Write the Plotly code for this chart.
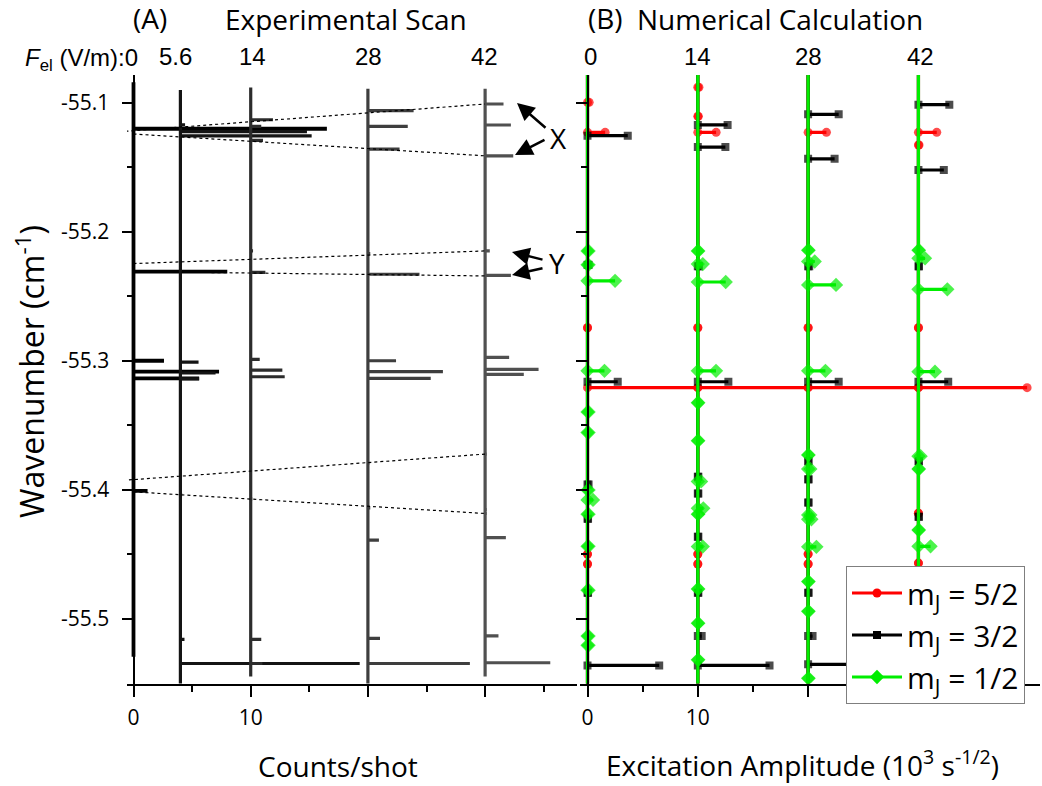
import plotly.graph_objects as go

W, H = 1042, 786

# ---------------- data ----------------
# Panel A: experimental scans (peak wavenumber, peak height in counts/shot)
exp_fields = ["0", "5.6", "14", "28", "42"]
exp_offsets = [0, 4, 10, 20, 30]
exp_colors = ["#000000", "#141414", "#2c2c2c", "#3e3e3e", "#505050"]
exp_tops = [-55.084, -55.090, -55.088, -55.089, -55.089]
exp_bottoms = [-55.5296, -55.56, -55.545, -55.56, -55.545]

exp0_E = [-55.1200, -55.2308, -55.3000, -55.3085, -55.3137, -55.4010]
exp0_h = [16.5, 8.0, 2.6, 7.3, 5.6, 1.2]

exp5_E = [-55.1170, -55.1222, -55.1256, -55.2168, -55.2246, -55.3010, -55.3095,
          -55.3140, -55.4039, -55.5162, -55.5349]
exp5_h = [0.4, 10.8, 11.2, 0.1, 0.1, 1.55, 3.0, 1.6, 0.15, 0.35, 15.3]

exp14_E = [-55.1130, -55.1181, -55.1290, -55.2148, -55.2314, -55.2990, -55.3072,
           -55.3124, -55.3185, -55.3860, -55.4072, -55.4391, -55.4758, -55.5162,
           -55.5288, -55.5349]
exp14_h = [1.9, 0.9, 1.05, 0.2, 1.25, 0.77, 2.7, 2.9, 0.1, 0.1, 0.15, 0.1, 0.1,
           0.9, 0.1, 1.0]

exp28_E = [-55.1060, -55.1181, -55.1358, -55.2168, -55.2329, -55.3000, -55.3085,
           -55.3137, -55.3794, -55.4142, -55.4391, -55.5154, -55.5349]
exp28_h = [3.9, 3.4, 2.7, 0.2, 4.4, 2.4, 6.4, 5.36, 0.15, 0.2, 0.94, 1.03, 8.7]

exp42_E = [-55.1008, -55.1171, -55.1410, -55.2148, -55.2337, -55.2974, -55.3067,
           -55.3106, -55.3724, -55.4154, -55.4185, -55.4372, -55.5135, -55.5343]
exp42_h = [1.57, 2.2, 2.4, 0.4, 2.2, 2.05, 4.56, 3.3, 0.15, 0.15, 0.15, 1.77,
           1.14, 5.56]

exp_E = [exp0_E, exp5_E, exp14_E, exp28_E, exp42_E]
exp_h = [exp0_h, exp5_h, exp14_h, exp28_h, exp42_h]

# dotted guide lines connecting states (start x, start E, end x, end E)
guide_x0 = [-1.2, 0, 0, 0, -0.9, 0]
guide_E0 = [-55.1223, -55.1241, -55.2246, -55.2308, -55.3928, -55.4017]
guide_x1 = [30, 30, 30, 30, 30, 30]
guide_E1 = [-55.1008, -55.1410, -55.2148, -55.2342, -55.3724, -55.4185]

# Panel B: numerical calculation (state wavenumber, excitation amplitude)
calc_fields = ["0", "14", "28", "42"]
calc_offsets = [0, 10, 20, 30]

red0_E = [-55.0995, -55.1228, -55.2744, -55.3209, -55.4500, -55.4577]
red0_A = [0.15, 1.6, 0.0, 39.85, 0.0, 0.0]
red14_E = [-55.0878, -55.1104, -55.1228, -55.2744, -55.3209, -55.4500, -55.4577]
red14_A = [0.1, 0.05, 1.66, 0.0, 0.0, 0.0, 0.0]
red28_E = [-55.1228, -55.2744, -55.3209, -55.4500, -55.4577]
red28_A = [1.66, 0.0, 0.0, 0.0, 0.0]
red42_E = [-55.1228, -55.1326, -55.2744, -55.3209, -55.4183, -55.4570]
red42_A = [1.66, 0.05, 0.0, 0.0, 0.0, 0.0]

blk0_E = [-55.1254, -55.2256, -55.3163, -55.3960, -55.4225, -55.4800, -55.5364]
blk0_A = [3.65, 0.1, 2.74, 0.1, 0.05, 0.05, 6.5]
blk14_E = [-55.1170, -55.1342, -55.2267, -55.3163, -55.3900, -55.4030, -55.4365,
           -55.4800, -55.5136, -55.5364]
blk14_A = [2.7, 2.5, 0.1, 2.77, 0.05, 0.05, 0.05, 0.05, 0.35, 6.5]
blk28_E = [-55.1088, -55.1433, -55.2267, -55.3163, -55.3780, -55.3920, -55.4100,
           -55.4800, -55.5136, -55.5355]
blk28_A = [2.77, 2.4, 0.1, 2.77, 0.05, 0.05, 0.05, 0.05, 0.4, 6.5]
blk42_E = [-55.1013, -55.1520, -55.2267, -55.3163, -55.3780, -55.4210, -55.5355]
blk42_A = [2.8, 2.3, 0.05, 2.7, 0.05, 0.05, 6.5]

grn0_E = [-55.2148, -55.2256, -55.2380, -55.3078, -55.3397, -55.3557, -55.4003,
          -55.4080, -55.4190, -55.4440, -55.4780, -55.5136, -55.5208]
grn0_A = [0.1, 0.1, 2.5, 1.54, 0.1, 0.1, 0.1, 0.5, 0.1, 0.1, 0.1, 0.1, 0.1]
grn14_E = [-55.2148, -55.2250, -55.2389, -55.3078, -55.3326, -55.3620, -55.3936,
           -55.4145, -55.4190, -55.4442, -55.4770, -55.5036, -55.5320]
grn14_A = [0.05, 0.45, 2.53, 1.65, 0.05, 0.05, 0.3, 0.5, 0.05, 0.45, 0.05, 0.05, 0.05]
grn28_E = [-55.2142, -55.2230, -55.2412, -55.3078, -55.3731, -55.3840, -55.4196,
           -55.4230, -55.4444, -55.4713, -55.4944, -55.5464]
grn28_A = [0.05, 0.6, 2.53, 1.57, 0.05, 0.2, 0.2, 0.3, 0.75, 0.05, 0.05, 0.05]
grn42_E = [-55.2142, -55.2205, -55.2446, -55.3085, -55.3740, -55.3840, -55.4313,
           -55.4440, -55.4700]
grn42_A = [0.05, 0.6, 2.62, 1.5, 0.2, 0.05, 0.05, 1.1, 0.05]

series_names = ["m<sub>J</sub> = 5/2", "m<sub>J</sub> = 3/2", "m<sub>J</sub> = 1/2"]
series_colors = ["#ff0000", "#000000", "#00ee00"]
series_symbols = ["circle", "square", "diamond"]
series_sizes = [9, 8, 11]
series_E = [[red0_E, red14_E, red28_E, red42_E],
            [blk0_E, blk14_E, blk28_E, blk42_E],
            [grn0_E, grn14_E, grn28_E, grn42_E]]
series_A = [[red0_A, red14_A, red28_A, red42_A],
            [blk0_A, blk14_A, blk28_A, blk42_A],
            [grn0_A, grn14_A, grn28_A, grn42_A]]

# ---------------- layout constants ----------------
Y_RANGE = [-55.5504, -55.0783]
XA_RANGE = [-0.555, 37.84]
XB_RANGE = [-0.68, 41.02]
PLOT_TOP, PLOT_BOT = 75, 683.5
YDOM = [1 - PLOT_BOT / H, 1 - PLOT_TOP / H]
XA_DOM = [127 / W, 577 / W]
XB_DOM = [580 / W, 1040 / W]
TOP_E, BOT_E = -55.0783, -55.56


def px(x):
    return x / W


def py(y):
    return 1 - y / H


def stick_path(base, top, bottom, E, A):
    pairs = sorted(zip(E, A), key=lambda p: -p[0])
    xs, ys, ms = [base], [top], [0]
    for e, a in pairs:
        xs += [base, base + a, base]
        ys += [e, e, e]
        ms += [1, 1, 0]
    xs.append(base)
    ys.append(bottom)
    ms.append(0)
    return xs, ys, ms


fig = go.Figure()

# Panel A traces
for i in range(len(exp_fields)):
    xs, ys, _ = stick_path(exp_offsets[i], exp_tops[i], exp_bottoms[i], exp_E[i], exp_h[i])
    fig.add_trace(go.Scatter(
        x=xs, y=ys, mode="lines", xaxis="x", yaxis="y",
        line=dict(color=exp_colors[i], width=3.8 if i == 0 else 3.2),
        showlegend=False, hoverinfo="skip"))

for k in range(len(guide_x0)):
    fig.add_trace(go.Scatter(
        x=[guide_x0[k], guide_x1[k]], y=[guide_E0[k], guide_E1[k]],
        mode="lines", xaxis="x", yaxis="y",
        line=dict(color="black", width=1.2, dash="dot"),
        showlegend=False, hoverinfo="skip"))

# Panel B traces
for s in range(3):
    for f in range(len(calc_fields)):
        xs, ys, ms = stick_path(calc_offsets[f], TOP_E, BOT_E, series_E[s][f], series_A[s][f])
        fig.add_trace(go.Scatter(
            x=xs, y=ys, mode="lines+markers", xaxis="x2", yaxis="y2",
            line=dict(color=series_colors[s], width=3.2),
            marker=dict(symbol=series_symbols[s], color=series_colors[s],
                        size=[series_sizes[s] * m for m in ms], line=dict(width=0)),
            showlegend=False, hoverinfo="skip"))
for s in range(3):
    fig.add_trace(go.Scatter(
        x=[None], y=[None], mode="lines+markers", xaxis="x2", yaxis="y2",
        name=series_names[s],
        line=dict(color=series_colors[s], width=3),
        marker=dict(symbol=series_symbols[s], color=series_colors[s], size=series_sizes[s])))

TICKFONT = dict(family="Open Sans", size=21, color="black")
axis_common = dict(showgrid=False, zeroline=False, showline=True, linecolor="black",
                   linewidth=2, ticks="outside", tickwidth=2, tickcolor="black",
                   ticklen=11, tickfont=TICKFONT)

y_tickvals = [-55.1, -55.2, -55.3, -55.4, -55.5]
y_ticktext = ["-55.1", "-55.2", "-55.3", "-55.4", "-55.5"]
y_minor = [-55.15, -55.25, -55.35, -55.45]
x_tickvals = [0, 10, 20, 30]
x_ticktext = ["0", "10", "", ""]
x_minor = [5, 15, 25, 35]

minor_common = dict(ticks="outside", ticklen=6, tickwidth=2, tickcolor="black", showgrid=False)

fig.update_layout(
    width=W, height=H, margin=dict(l=0, r=0, t=0, b=0),
    paper_bgcolor="white", plot_bgcolor="rgba(0,0,0,0)",
    xaxis=dict(domain=XA_DOM, range=XA_RANGE, anchor="y", tickmode="array",
               tickvals=x_tickvals, ticktext=x_ticktext, ticklabelstandoff=3,
               minor=dict(tickmode="array", tickvals=x_minor, **minor_common), **axis_common),
    xaxis2=dict(domain=XB_DOM, range=XB_RANGE, anchor="y2", tickmode="array",
                tickvals=x_tickvals, ticktext=x_ticktext, ticklabelstandoff=3,
                minor=dict(tickmode="array", tickvals=x_minor, **minor_common), **axis_common),
    yaxis=dict(domain=YDOM, range=Y_RANGE, anchor="free", position=133.5 / W,
               tickmode="array", tickvals=y_tickvals, ticktext=y_ticktext,
               ticklabelstandoff=8,
               minor=dict(tickmode="array", tickvals=y_minor, **minor_common), **axis_common),
    yaxis2=dict(domain=YDOM, range=Y_RANGE, anchor="free", position=587.5 / W,
                tickmode="array", tickvals=y_tickvals, showticklabels=False,
                minor=dict(tickmode="array", tickvals=y_minor, **minor_common), **axis_common),
    legend=dict(x=846 / W, y=py(566), xanchor="left", yanchor="top",
                bordercolor="#7f7f7f", borderwidth=1, bgcolor="white",
                font=dict(family="Open Sans", size=30, color="black"),
                itemwidth=50, tracegroupgap=0),
    showlegend=True,
)

TITLEFONT = dict(family="Open Sans", size=28, color="black")
NUMFONT = dict(family="Liberation Sans", size=24, color="black")
anns = []


def add_text(text, x, y, font, xanchor="center", angle=0):
    anns.append(dict(text=text, x=px(x), y=py(y), xref="paper", yref="paper",
                     showarrow=False, font=font, xanchor=xanchor, yanchor="middle",
                     textangle=angle))


add_text("(A)", 150, 18, TITLEFONT)
add_text("Experimental Scan", 346, 19, TITLEFONT)
add_text("(B)", 605, 18, TITLEFONT)
add_text("Numerical Calculation", 780, 19, TITLEFONT)
add_text("<i>F</i><sub>el</sub> (V/m):0", 140, 59, NUMFONT, xanchor="right")
top_label_px_A = [None, 175, 252, 368, 484]
for i in range(1, len(exp_fields)):
    add_text(exp_fields[i], top_label_px_A[i], 57, NUMFONT)
top_label_px_B = [590, 697, 808, 920]
for i in range(len(calc_fields)):
    add_text(calc_fields[i], top_label_px_B[i], 57, NUMFONT)
add_text("Wavenumber (cm<sup>-1</sup>)", 30, 372, dict(family="Open Sans", size=32, color="black"), angle=-90)
add_text("Counts/shot", 338, 766, TITLEFONT)
add_text("Excitation Amplitude (10<sup>3</sup> s<sup>-1/2</sup>)", 802, 763, TITLEFONT)
add_text("X", 558, 138, TITLEFONT)
add_text("Y", 557, 263, TITLEFONT)

arrows = [((517, 103), (547, 129)), ((515, 155), (546, 139)),
          ((512, 252), (544, 260)), ((512, 275), (544, 268))]
for head, tail in arrows:
    anns.append(dict(text="", x=px(head[0]), y=py(head[1]), xref="paper", yref="paper",
                     ax=tail[0] - head[0], ay=tail[1] - head[1], showarrow=True,
                     arrowhead=2, arrowsize=1.4, arrowwidth=2.5, arrowcolor="black",
                     standoff=0, startstandoff=0))

fig.update_layout(annotations=anns)
fig.write_html("out.html")
